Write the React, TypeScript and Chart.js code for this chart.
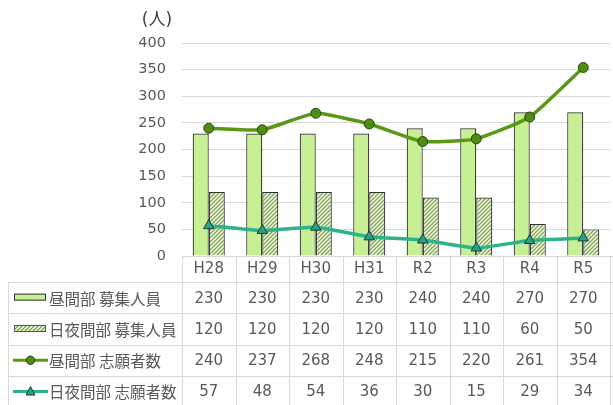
import React, { useEffect, useRef } from "react";
import { Chart, registerables } from "chart.js";

Chart.register(...registerables);

const categories = ["H28", "H29", "H30", "H31", "R2", "R3", "R4", "R5"];
const dayRecruit = [230, 230, 230, 230, 240, 240, 270, 270];
const dayNightRecruit = [120, 120, 120, 120, 110, 110, 60, 50];
const dayApplicants = [240, 237, 268, 248, 215, 220, 261, 354];
const dayNightApplicants = [57, 48, 54, 36, 30, 15, 29, 34];
const seriesLabels = ["昼間部 募集人員", "日夜間部 募集人員", "昼間部 志願者数", "日夜間部 志願者数"];
const unitLabel = "(人)";

const NUM_FONT = "'DejaVu Sans', 'Noto Sans CJK JP', sans-serif";
const JP_FONT = "'Noto Sans CJK JP', 'DejaVu Sans', sans-serif";
const TEXT = "#595959";
const GRID = "#d9d9d9";
const BAR_FILL = "#c7ef94";
const BAR_BORDER = "#2f2f2f";
const HATCH = "#7fa84a";
const GREEN = "#5a9914";
const GREEN_PT = "#4f8c12";
const TEAL = "#2db38c";
const TEAL_PT = "#27a383";

function makeHatch(): CanvasPattern | string {
  const c = document.createElement("canvas");
  c.width = 4;
  c.height = 4;
  const g = c.getContext("2d");
  if (!g) return "#ffffff";
  g.fillStyle = "#f4f9ec";
  g.fillRect(0, 0, 4, 4);
  g.strokeStyle = HATCH;
  g.lineWidth = 1.3;
  g.beginPath();
  g.moveTo(-1, 5);
  g.lineTo(5, -1);
  g.moveTo(-1, 1);
  g.lineTo(1, -1);
  g.moveTo(3, 5);
  g.lineTo(5, 3);
  g.stroke();
  const p = g.createPattern(c, "repeat");
  return p || "#ffffff";
}

export default function App() {
  const ref = useRef<HTMLCanvasElement | null>(null);

  useEffect(() => {
    document.body.style.margin = "0";
    document.body.style.overflow = "hidden";
    const canvas = ref.current;
    if (!canvas) return;
    const hatch = makeHatch();

    const tablePlugin = {
      id: "dataTable",
      afterDraw(chart: any) {
        const ctx = chart.ctx as CanvasRenderingContext2D;
        const xs = chart.scales.x;
        const area = chart.chartArea;
        const n = categories.length;
        const cw = (area.right - area.left) / n;
        const headerBottom = area.bottom + 26;
        const rowH = 31.3;
        const tableLeft = 8;
        const tableRight = chart.width + 2;
        ctx.save();
        ctx.strokeStyle = GRID;
        ctx.lineWidth = 1;
        ctx.beginPath();
        ctx.moveTo(area.left, Math.round(area.bottom) + 0.5);
        ctx.lineTo(tableRight, Math.round(area.bottom) + 0.5);
        ctx.stroke();
        for (let r = 0; r <= 4; r++) {
          const y = Math.round(headerBottom + r * rowH) + 0.5;
          ctx.beginPath();
          ctx.moveTo(tableLeft, y);
          ctx.lineTo(tableRight, y);
          ctx.stroke();
        }
        for (let i = 0; i <= n; i++) {
          const x = Math.round(area.left + i * cw) + 0.5;
          ctx.beginPath();
          ctx.moveTo(x, area.bottom);
          ctx.lineTo(x, headerBottom + 4 * rowH + 2);
          ctx.stroke();
        }
        ctx.beginPath();
        ctx.moveTo(tableLeft + 0.5, headerBottom);
        ctx.lineTo(tableLeft + 0.5, headerBottom + 4 * rowH + 2);
        ctx.stroke();

        const rows = [dayRecruit, dayNightRecruit, dayApplicants, dayNightApplicants];
        ctx.fillStyle = TEXT;
        ctx.font = `15px ${NUM_FONT}`;
        ctx.textAlign = "center";
        ctx.textBaseline = "middle";
        rows.forEach((vals, r) => {
          const cy = headerBottom + r * rowH + rowH / 2 + 1;
          vals.forEach((v, i) => {
            ctx.fillText(String(v), xs.getPixelForValue(i), cy);
          });
        });

        ctx.textAlign = "left";
        ctx.font = `15.5px ${JP_FONT}`;
        seriesLabels.forEach((lab, r) => {
          const cy = headerBottom + r * rowH + rowH / 2 + 1;
          ctx.fillStyle = TEXT;
          ctx.fillText(lab, 49, cy);
        });

        const mx0 = 14, mx1 = 46;
        let cy = headerBottom + rowH / 2;
        ctx.fillStyle = BAR_FILL;
        ctx.fillRect(mx0, cy - 4, mx1 - mx0, 7);
        ctx.strokeStyle = BAR_BORDER;
        ctx.lineWidth = 1;
        ctx.strokeRect(mx0 + 0.5, cy - 4 + 0.5, mx1 - mx0 - 1, 6);
        cy = headerBottom + rowH + rowH / 2;
        ctx.fillStyle = hatch as any;
        ctx.fillRect(mx0, cy - 4, mx1 - mx0, 7);
        ctx.strokeStyle = "#555555";
        ctx.strokeRect(mx0 + 0.5, cy - 4 + 0.5, mx1 - mx0 - 1, 6);
        cy = headerBottom + 2 * rowH + rowH / 2;
        ctx.strokeStyle = GREEN;
        ctx.lineWidth = 3;
        ctx.beginPath();
        ctx.moveTo(13, cy);
        ctx.lineTo(48, cy);
        ctx.stroke();
        ctx.beginPath();
        ctx.arc(30.5, cy, 4.2, 0, Math.PI * 2);
        ctx.fillStyle = GREEN_PT;
        ctx.fill();
        ctx.lineWidth = 1;
        ctx.strokeStyle = "#2a4510";
        ctx.stroke();
        cy = headerBottom + 3 * rowH + rowH / 2;
        ctx.strokeStyle = TEAL;
        ctx.lineWidth = 3;
        ctx.beginPath();
        ctx.moveTo(13, cy);
        ctx.lineTo(48, cy);
        ctx.stroke();
        ctx.beginPath();
        ctx.moveTo(30.5, cy - 5);
        ctx.lineTo(35, cy + 3.5);
        ctx.lineTo(26, cy + 3.5);
        ctx.closePath();
        ctx.fillStyle = TEAL_PT;
        ctx.fill();
        ctx.lineWidth = 1;
        ctx.strokeStyle = "#1e3d35";
        ctx.stroke();

        ctx.fillStyle = "#404040";
        ctx.font = `17px ${NUM_FONT}`;
        ctx.textAlign = "center";
        ctx.textBaseline = "middle";
        ctx.fillText(unitLabel, 157, 21);
        ctx.restore();
      },
    };

    const chart = new Chart(canvas, {
      type: "bar",
      data: {
        labels: categories,
        datasets: [
          {
            type: "bar",
            label: seriesLabels[0],
            data: dayRecruit,
            backgroundColor: BAR_FILL,
            borderColor: BAR_BORDER,
            borderWidth: 1.2,
            order: 2,
            categoryPercentage: 0.6,
            barPercentage: 1.0,
          },
          {
            type: "bar",
            label: seriesLabels[1],
            data: dayNightRecruit,
            backgroundColor: hatch as any,
            borderColor: BAR_BORDER,
            borderWidth: 1.2,
            order: 2,
            categoryPercentage: 0.6,
            barPercentage: 1.0,
          },
          {
            type: "line",
            label: seriesLabels[2],
            data: dayApplicants,
            borderColor: GREEN,
            borderWidth: 3.5,
            backgroundColor: GREEN_PT,
            pointBackgroundColor: GREEN_PT,
            pointBorderColor: "#2a4510",
            pointBorderWidth: 1,
            pointRadius: 5,
            pointStyle: "circle",
            tension: 0.15,
            order: 0,
          },
          {
            type: "line",
            label: seriesLabels[3],
            data: dayNightApplicants,
            borderColor: TEAL,
            borderWidth: 3.5,
            backgroundColor: TEAL_PT,
            pointBackgroundColor: TEAL_PT,
            pointBorderColor: "#1e3d35",
            pointBorderWidth: 1,
            pointRadius: 6,
            pointStyle: "triangle",
            tension: 0.15,
            order: 1,
          },
        ],
      },
      options: {
        animation: false,
        responsive: false,
        maintainAspectRatio: false,
        layout: { padding: { left: 0, right: 0, top: 43, bottom: 123 } },
        plugins: {
          legend: { display: false },
          tooltip: { enabled: false },
          title: { display: false },
        },
        scales: {
          x: {
            offset: true,
            grid: { display: false, drawTicks: false },
            border: { display: false },
            ticks: {
              autoSkip: false,
              maxRotation: 0,
              padding: 4,
              color: TEXT,
              font: { family: NUM_FONT, size: 15 },
            },
            afterFit(scale: any) {
              scale.height = 26;
            },
          },
          y: {
            min: 0,
            max: 400,
            grid: { color: GRID, drawTicks: false, lineWidth: 1 },
            border: { display: false },
            ticks: {
              stepSize: 50,
              padding: 16,
              color: TEXT,
              font: { family: NUM_FONT, size: 14.5 },
            },
            afterFit(scale: any) {
              scale.width = 182;
            },
          },
        },
      },
      plugins: [tablePlugin],
    });
    return () => chart.destroy();
  }, []);

  return (
    <div style={{ width: 613, height: 405, overflow: "hidden", position: "relative", background: "#ffffff" }}>
      <canvas ref={ref} width={617} height={405} style={{ display: "block" }} />
    </div>
  );
}
